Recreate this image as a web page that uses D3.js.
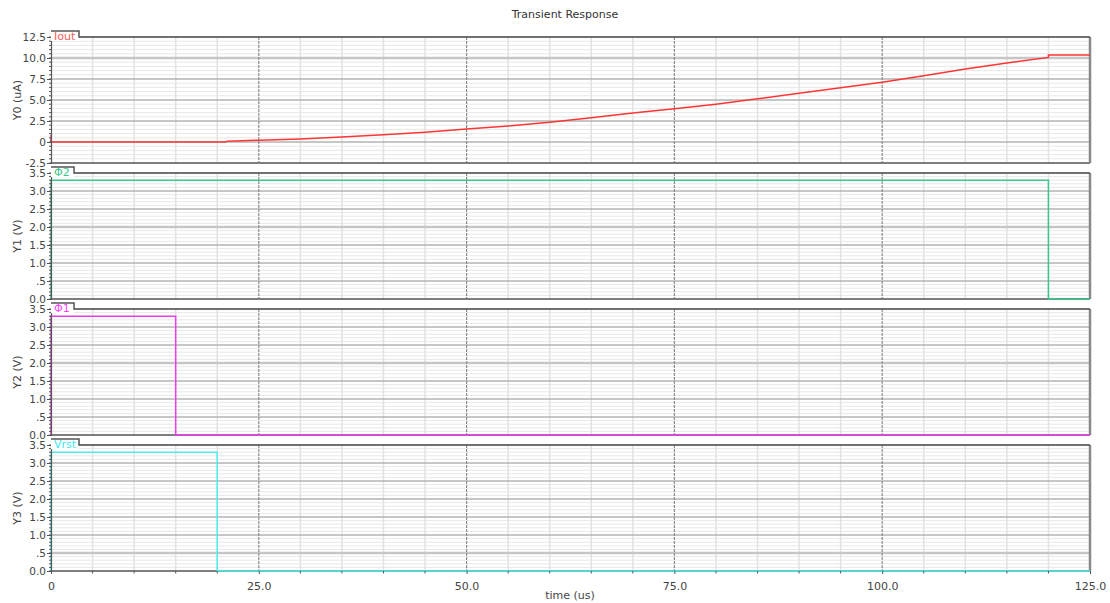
<!DOCTYPE html>
<html><head><meta charset="utf-8">
<script src="https://cdn.jsdelivr.net/npm/d3@7"></script>
<style>
body{margin:0;background:#fff;}
svg{display:block;font-family:"DejaVu Sans",sans-serif;}
</style></head>
<body><svg id="c" width="1110" height="603"></svg>
<script>
// ---- data ----
const title = "Transient Response";
const xLabel = "time (us)";
const xTickValues = [0, 25, 50, 75, 100, 125];
const xTickLabels = ["0", "25.0", "50.0", "75.0", "100.0", "125.0"];

const ioutTime = [0, 0, 0.1, 21, 21.2, 25, 30, 35, 40, 45, 50, 55, 60, 65, 70, 75, 80, 85, 90, 95, 100, 105, 110, 115, 120, 120, 125];
const ioutVals = [0.85, 0, 0, 0, 0.1, 0.22, 0.36, 0.6, 0.85, 1.15, 1.55, 1.9, 2.35, 2.9, 3.45, 3.95, 4.5, 5.15, 5.8, 6.45, 7.1, 7.9, 8.7, 9.4, 10.07, 10.36, 10.36];

const phi2Time = [0, 0, 120, 120, 125];
const phi2Vals = [0, 3.3, 3.3, 0, 0];
const phi1Time = [0, 0, 15, 15, 125];
const phi1Vals = [0, 3.3, 3.3, 0, 0];
const vrstTime = [0, 0, 20, 20, 125];
const vrstVals = [0, 3.3, 3.3, 0, 0];

const y0TickValues = [-2.5, 0, 2.5, 5, 7.5, 10, 12.5];
const y0TickLabels = ["-2.5", "0", "2.5", "5.0", "7.5", "10.0", "12.5"];
const vTickValues = [0, 0.5, 1, 1.5, 2, 2.5, 3, 3.5];
const vTickLabels = ["0.0", ".5", "1.0", "1.5", "2.0", "2.5", "3.0", "3.5"];

const panels = [
  {name: "Iout", yLabel: "Y0 (uA)", time: ioutTime, vals: ioutVals, color: "#ff3535", text: "#ff5a5a",
   domain: [-2.5, 12.5], ticks: y0TickValues, labels: y0TickLabels, minor: 0.5, hi: 10, tab: 28},
  {name: "\u03a62", yLabel: "Y1 (V)", time: phi2Time, vals: phi2Vals, color: "#3cc88c", text: "#3cc88c",
   domain: [0, 3.5], ticks: vTickValues, labels: vTickLabels, minor: 0.1, hi: 2, tab: 23},
  {name: "\u03a61", yLabel: "Y2 (V)", time: phi1Time, vals: phi1Vals, color: "#f03cf0", text: "#ff44ff",
   domain: [0, 3.5], ticks: vTickValues, labels: vTickLabels, minor: 0.1, hi: 2, tab: 23},
  {name: "Vrst", yLabel: "Y3 (V)", time: vrstTime, vals: vrstVals, color: "#4cf0f0", text: "#40e8f0",
   domain: [0, 3.5], ticks: vTickValues, labels: vTickLabels, minor: 0.1, hi: 0.5, tab: 28}
];

// ---- layout ----
const svg = d3.select("#c");
const defs = svg.append("defs");
const L = 51, R = 1090;
const tops = [37, 173, 309, 445];
const PH = 126;
const x = d3.scaleLinear().domain([0, 125]).range([L, R]);

svg.append("text").attr("x", 565).attr("y", 18).attr("text-anchor", "middle")
  .attr("font-size", 11).attr("fill", "#333").text(title);

const minorX = d3.range(5, 125, 5).filter(v => v % 25 !== 0);
const majorX = [25, 50, 75, 100];

panels.forEach((p, i) => {
  const top = tops[i], bot = top + PH;
  const y = d3.scaleLinear().domain(p.domain).range([bot, top]);
  const g = svg.append("g");
  const n = Math.round((p.domain[1] - p.domain[0]) / p.minor);
  const minorY = d3.range(0, n + 1).map(k => +(p.domain[0] + k * p.minor).toFixed(4));

  const clipTop = i === 0 ? top - 7 : top - 4;
  const clipBot = i === 0 ? bot + 4 : bot + 5;
  defs.append("clipPath").attr("id", "clip" + i).append("rect")
    .attr("x", 0).attr("y", clipTop).attr("width", L + 2).attr("height", clipBot - clipTop);

  // minor horizontal grid
  g.selectAll(".mh").data(minorY).join("line")
    .attr("x1", L).attr("x2", R).attr("y1", d => y(d)).attr("y2", d => y(d))
    .attr("stroke", "#e8e8e8").attr("stroke-width", 1);
  // minor vertical grid
  g.selectAll(".mv").data(minorX).join("line")
    .attr("x1", d => x(d)).attr("x2", d => x(d)).attr("y1", top).attr("y2", bot)
    .attr("stroke", "#e2e2e2").attr("stroke-width", 1.5);
  // major horizontal grid
  g.selectAll(".Mh").data(p.ticks.filter(t => t !== p.hi)).join("line")
    .attr("x1", L).attr("x2", R).attr("y1", d => y(d)).attr("y2", d => y(d))
    .attr("stroke", "#9a9a9a").attr("stroke-width", 1);
  g.append("line").attr("x1", L).attr("x2", R).attr("y1", y(p.hi)).attr("y2", y(p.hi))
    .attr("stroke", "#c6c6c6").attr("stroke-width", 2.5);
  // major vertical grid (dashed)
  g.selectAll(".Mv").data(majorX).join("line")
    .attr("x1", d => x(d)).attr("x2", d => x(d)).attr("y1", top).attr("y2", bot)
    .attr("stroke", "#8c8c8c").attr("stroke-width", 1.2).attr("stroke-dasharray", "3,1");

  // frame
  g.append("line").attr("x1", L).attr("x2", R).attr("y1", bot).attr("y2", bot)
    .attr("stroke", "#666").attr("stroke-width", 1.5);
  g.append("line").attr("x1", R).attr("x2", R).attr("y1", top).attr("y2", bot)
    .attr("stroke", "#888").attr("stroke-width", 2.5);

  // data line
  const line = d3.line().x(d => x(d[0])).y(d => y(d[1]));
  g.append("path").datum(p.time.map((t, k) => [t, p.vals[k]]))
    .attr("d", line).attr("fill", "none").attr("stroke", p.color).attr("stroke-width", 1.5);

  // left axis (clipped wrapper in page coordinates)
  const wrap = g.append("g").attr("clip-path", `url(#clip${i})`);
  const ax = d3.axisLeft(y).tickValues(p.ticks).tickFormat((d, k) => p.labels[k]).tickSize(4).tickPadding(1);
  const ag = wrap.append("g").attr("transform", `translate(${L},0)`).call(ax);
  ag.select(".domain").attr("stroke", "#555").attr("stroke-width", 1.2);
  ag.selectAll(".tick line").attr("stroke", "#555");
  ag.selectAll("text").attr("font-size", 10.5).attr("fill", "#444").attr("font-family", "DejaVu Sans, sans-serif");
  g.selectAll(".mt").data(minorY).join("line")
    .attr("x1", L - 2).attr("x2", L).attr("y1", d => y(d)).attr("y2", d => y(d))
    .attr("stroke", "#555").attr("stroke-width", 1);

  // y label
  g.append("text").attr("transform", `translate(21,${(top + bot) / 2}) rotate(-90)`)
    .attr("text-anchor", "middle").attr("font-size", 11).attr("fill", "#444").text(p.yLabel);

  // tab
  g.append("rect").attr("x", L).attr("y", top - 6).attr("width", p.tab).attr("height", 10).attr("fill", "#fff");
  g.append("path").attr("d", `M${L},${top - 6}H${L + p.tab}V${top}H${R}`)
    .attr("fill", "none").attr("stroke", "#555").attr("stroke-width", 1.5);
  g.append("text").attr("x", L + 3).attr("y", top + 3).attr("font-size", 11)
    .attr("fill", p.text).text(p.name);
});

// bottom x axis
const xb = tops[3] + PH;
const xa = d3.axisBottom(x).tickValues(xTickValues).tickFormat((d, k) => xTickLabels[k]).tickSize(3).tickPadding(8);
const xg = svg.append("g").attr("transform", `translate(0,${xb})`).call(xa);
xg.select(".domain").remove();
xg.selectAll(".tick line").attr("stroke", "#555");
xg.selectAll("text").attr("font-size", 11).attr("fill", "#444").attr("font-family", "DejaVu Sans, sans-serif");
svg.selectAll(".xm").data(minorX).join("line")
  .attr("x1", d => x(d)).attr("x2", d => x(d)).attr("y1", xb).attr("y2", xb + 2.5)
  .attr("stroke", "#555");
svg.append("text").attr("x", 570).attr("y", 599).attr("text-anchor", "middle")
  .attr("font-size", 11).attr("fill", "#444").text(xLabel);
</script></body></html>
